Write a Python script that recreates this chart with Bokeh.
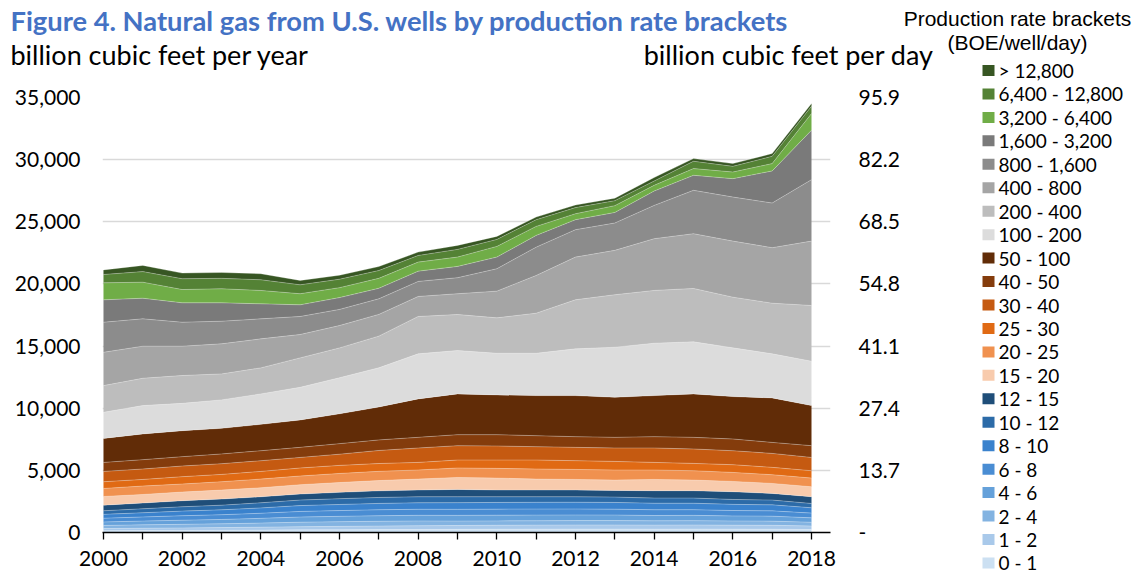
from bokeh.plotting import figure
from bokeh.layouts import column, row
from bokeh.models import (ColumnDataSource, FixedTicker, LinearAxis, CustomJSTickFormatter,
                          NumeralTickFormatter, Range1d)
from bokeh.core.properties import value
from bokeh.embed import file_html
from bokeh.resources import INLINE

years = list(range(2000, 2019))

# bracket labels, bottom of stack first
brackets = ["0 - 1", "1 - 2", "2 - 4", "4 - 6", "6 - 8", "8 - 10", "10 - 12", "12 - 15",
            "15 - 20", "20 - 25", "25 - 30", "30 - 40", "40 - 50", "50 - 100",
            "100 - 200", "200 - 400", "400 - 800", "800 - 1,600", "1,600 - 3,200",
            "3,200 - 6,400", "6,400 - 12,800", "> 12,800"]

# billion cubic feet per year, by bracket
b0_1 = [150, 160, 170, 180, 195, 215, 225, 235, 245, 255, 265, 270, 275, 275, 270, 275, 270, 265, 240]
b1_2 = [170, 185, 200, 215, 235, 255, 270, 285, 300, 310, 320, 325, 330, 330, 325, 330, 320, 315, 285]
b2_4 = [250, 270, 290, 305, 330, 360, 375, 385, 385, 355, 350, 350, 355, 355, 345, 350, 340, 335, 300]
b4_6 = [280, 305, 330, 350, 380, 415, 430, 445, 455, 460, 460, 455, 450, 445, 430, 425, 405, 400, 355]
b6_8 = [300, 330, 360, 380, 410, 450, 465, 480, 485, 485, 485, 485, 480, 475, 460, 455, 435, 425, 380]
b8_10 = [310, 340, 370, 395, 430, 470, 490, 510, 520, 535, 540, 545, 545, 540, 525, 520, 495, 485, 430]
b10_12 = [290, 320, 350, 375, 410, 445, 465, 480, 485, 475, 455, 445, 440, 430, 415, 415, 395, 385, 345]
b12_15 = [450, 460, 485, 490, 485, 485, 510, 530, 540, 590, 540, 540, 540, 535, 590, 590, 620, 530, 540]
b15_20 = [700, 690, 700, 725, 725, 750, 790, 830, 885, 965, 965, 885, 855, 835, 910, 860, 830, 810, 805]
b20_25 = [645, 680, 645, 670, 700, 700, 730, 740, 730, 760, 780, 810, 805, 810, 760, 750, 725, 700, 700]
b25_30 = [540, 530, 590, 590, 615, 645, 650, 630, 610, 640, 670, 720, 705, 690, 610, 590, 620, 590, 590]
b30_40 = [830, 840, 860, 860, 860, 850, 900, 1050, 1160, 1155, 1130, 1075, 1070, 1080, 1160, 1160, 1125, 1125, 1070]
b40_50 = [725, 750, 750, 785, 805, 810, 850, 850, 855, 885, 910, 885, 860, 855, 910, 935, 945, 885, 945]
b50_100 = [1930, 2070, 2090, 2060, 2120, 2205, 2400, 2650, 3095, 3280, 3200, 3225, 3305, 3225, 3305, 3495, 3410, 3580, 3225]
b100_200 = [2100, 2280, 2200, 2290, 2450, 2625, 2900, 3150, 3625, 3490, 3350, 3405, 3760, 4025, 4215, 4190, 3920, 3545, 3570]
b200_400 = [2150, 2200, 2240, 2090, 2095, 2370, 2400, 2550, 3005, 2900, 2850, 3225, 3950, 4225, 4245, 4295, 4080, 4075, 4485]
b400_800 = [2680, 2580, 2360, 2420, 2335, 1880, 1800, 1750, 1610, 1670, 2150, 3035, 3435, 3570, 4165, 4405, 4510, 4465, 5180]
b800_1600 = [2420, 2200, 1930, 1820, 1610, 1450, 1300, 1250, 1210, 1290, 1800, 2280, 2205, 2200, 2680, 3490, 3545, 3595, 4945]
b1600_3200 = [1800, 1660, 1560, 1480, 1210, 940, 950, 850, 830, 910, 940, 945, 805, 850, 1155, 1210, 1480, 2580, 3980]
b3200_6400 = [1370, 1290, 1070, 1130, 1075, 890, 800, 800, 725, 750, 860, 725, 480, 550, 460, 540, 535, 590, 1340]
b6400_12800 = [670, 850, 870, 840, 860, 720, 680, 630, 535, 620, 560, 540, 490, 400, 345, 590, 455, 590, 590]
b_gt12800 = [370, 500, 450, 470, 485, 350, 320, 320, 270, 320, 245, 210, 210, 200, 275, 215, 220, 220, 215]

series = [b0_1, b1_2, b2_4, b4_6, b6_8, b8_10, b10_12, b12_15, b15_20, b20_25, b25_30,
          b30_40, b40_50, b50_100, b100_200, b200_400, b400_800, b800_1600, b1600_3200,
          b3200_6400, b6400_12800, b_gt12800]

colors = ["#CCE0F2", "#A9C9EA", "#83B3E1", "#65A1DA", "#4A8DD3", "#3A82CD", "#2C6BA8", "#1F4E79",
          "#F8CBAD", "#F0914F", "#E06A14", "#C55A11", "#843C0C", "#612C07",
          "#DCDCDC", "#BDBDBD", "#A5A5A5", "#8C8C8C", "#7A7A7A",
          "#70AD47", "#548235", "#375623"]

y_ticks = [0, 5000, 10000, 15000, 20000, 25000, 30000, 35000]

title_text = "Figure 4. Natural gas from U.S. wells by production rate brackets"
left_header = "billion cubic feet per year"
right_header = "billion cubic feet per day"
legend_title_1 = "Production rate brackets"
legend_title_2 = "(BOE/well/day)"

FONT = "Lato"
TOP_H = 82


def text_fig(x0, x1, y0, y1):
    """A figure whose frame is its whole canvas, with data units equal to page pixels."""
    f = figure(width=x1 - x0, height=y1 - y0, output_backend="svg", toolbar_location=None,
               x_range=Range1d(x0, x1), y_range=Range1d(y1, y0),
               x_axis_location=None, y_axis_location=None, min_border=0)
    f.outline_line_color = None
    f.grid.visible = False
    f.background_fill_color = "white"
    f.border_fill_color = "white"
    return f


# legend entries, top bracket first
leg_labels = brackets[::-1]
leg_colors = colors[::-1]
leg_y = [70 + 23.45 * i for i in range(len(leg_labels))]

# ---- top band: title, unit captions, legend title, first legend entry
top = text_fig(0, 1137, 0, TOP_H)
top.text(x=[10], y=[20], text=[title_text], text_font=value(FONT), text_font_style="bold",
         text_font_size="27.3px", text_color="#4472C4", text_baseline="middle", text_align="left")
top.text(x=[10], y=[54], text=[left_header], text_font=value(FONT), text_font_size="27px",
         text_color="black", text_baseline="middle", text_align="left")
top.text(x=[933], y=[54], text=[right_header], text_font=value(FONT), text_font_size="27px",
         text_color="black", text_baseline="middle", text_align="right")
top.text(x=[1017, 1017], y=[18, 42], text=[legend_title_1, legend_title_2],
         text_font=value("Liberation Sans"), text_font_size="21px", text_color="black",
         text_baseline="middle", text_align="center")
top_idx = [i for i in range(len(leg_labels)) if leg_y[i] < TOP_H]
top.rect(x=[988] * len(top_idx), y=[leg_y[i] for i in top_idx], width=12, height=11,
         fill_color=[leg_colors[i] for i in top_idx], line_color=None)
top.text(x=[998] * len(top_idx), y=[leg_y[i] for i in top_idx], text=[leg_labels[i] for i in top_idx],
         text_font=value(FONT), text_font_size="19px", text_color="black",
         text_baseline="middle", text_align="left")

# ---- main chart
keys = ["s%d" % i for i in range(len(series))]
data = {"year": years}
for k, s in zip(keys, series):
    data[k] = s
src = ColumnDataSource(data)

p = figure(width=940, height=575 - TOP_H, output_backend="svg", toolbar_location=None,
           x_range=Range1d(1999.975, 2018.483), y_range=Range1d(0, 35000),
           min_border_left=102, min_border_right=110, min_border_top=97 - TOP_H,
           min_border_bottom=43)
p.outline_line_color = None
p.background_fill_color = "white"
p.border_fill_color = "white"

p.varea_stack(stackers=keys, x="year", color=colors, source=src)
p.vline_stack(stackers=keys, x="year", source=src, line_color="white", line_alpha=0.35, line_width=0.8)

p.xgrid.visible = False
p.ygrid.grid_line_color = "#D9D9D9"
p.ygrid.grid_line_width = 1.3
p.ygrid.ticker = FixedTicker(ticks=y_ticks)

xa = p.xaxis[0]
xa.ticker = FixedTicker(ticks=list(range(2000, 2019, 2)), minor_ticks=list(range(2001, 2019, 2)))
xa.formatter = CustomJSTickFormatter(code="return tick.toFixed(0);")
xa.axis_line_color = "black"
xa.axis_line_width = 1.3
xa.major_tick_line_color = "black"
xa.major_tick_line_width = 1.3
xa.minor_tick_line_color = "black"
xa.minor_tick_line_width = 1.3
xa.major_tick_out = 7
xa.major_tick_in = 0
xa.minor_tick_out = 7
xa.minor_tick_in = 0
xa.major_label_standoff = 11
xa.major_label_text_font = FONT
xa.major_label_text_font_size = "21px"
xa.major_label_text_color = "black"

ya = p.yaxis[0]
ya.ticker = FixedTicker(ticks=y_ticks)
ya.formatter = NumeralTickFormatter(format="0,0")
ya.axis_line_color = None
ya.major_tick_line_color = None
ya.minor_tick_line_color = None
ya.major_tick_out = 0
ya.major_label_standoff = 22
ya.major_label_text_font = FONT
ya.major_label_text_font_size = "21px"
ya.major_label_text_color = "black"

ra = LinearAxis(ticker=FixedTicker(ticks=y_ticks),
                formatter=CustomJSTickFormatter(code="return tick == 0 ? '-' : (tick/365).toFixed(1);"))
ra.axis_line_color = None
ra.major_tick_line_color = None
ra.minor_tick_line_color = None
ra.major_tick_out = 0
ra.major_label_standoff = 28
ra.major_label_text_font = FONT
ra.major_label_text_font_size = "21px"
ra.major_label_text_color = "black"
p.add_layout(ra, "right")

# ---- legend panel (remaining entries)
lg = text_fig(940, 1137, TOP_H, 575)
rest = [i for i in range(len(leg_labels)) if leg_y[i] >= TOP_H]
lg.rect(x=[988] * len(rest), y=[leg_y[i] for i in rest], width=12, height=11,
        fill_color=[leg_colors[i] for i in rest], line_color=None)
lg.text(x=[998] * len(rest), y=[leg_y[i] for i in rest], text=[leg_labels[i] for i in rest],
        text_font=value(FONT), text_font_size="19px", text_color="black",
        text_baseline="middle", text_align="left")

layout = column(top, row(column(p), lg))

open("out.html", "w").write(file_html(layout, INLINE))
